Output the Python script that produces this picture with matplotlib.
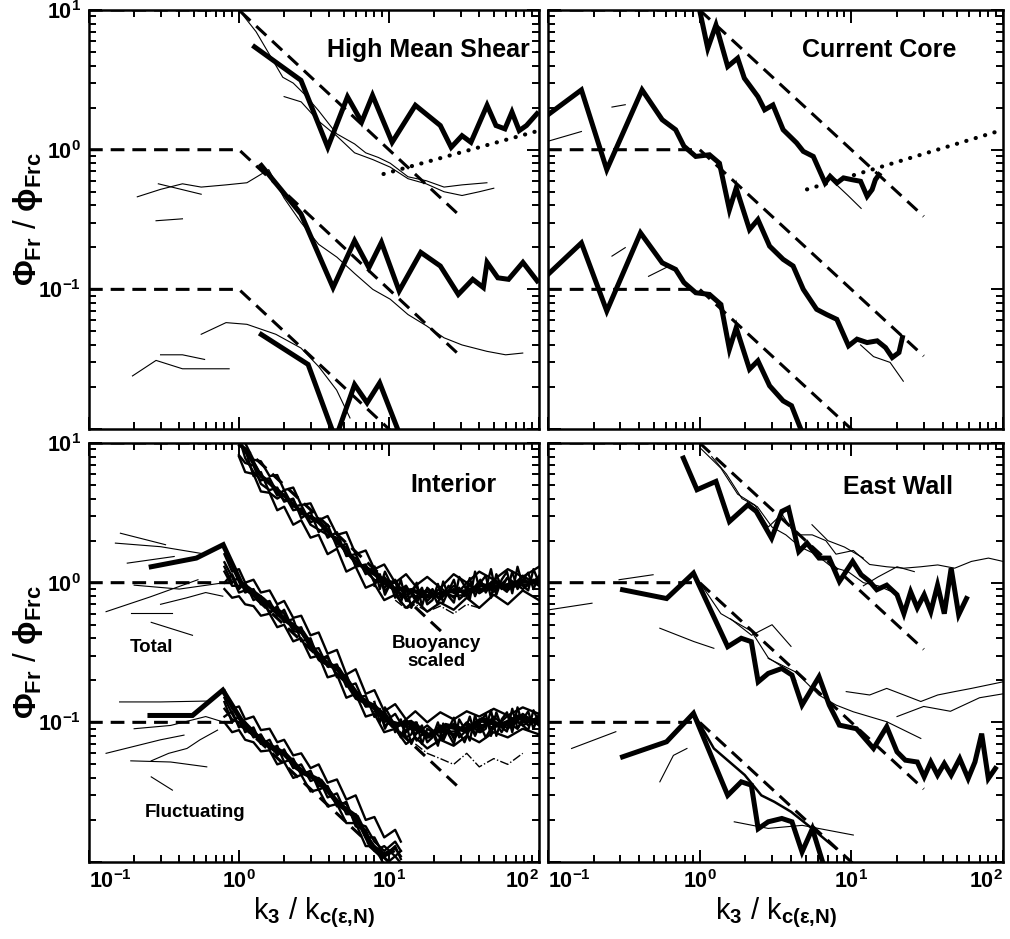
import numpy as np
import matplotlib
matplotlib.use('Agg')
import matplotlib.pyplot as plt
from matplotlib.ticker import FixedLocator, NullFormatter

plt.rcParams['font.family'] = ['Liberation Sans', 'DejaVu Sans']
plt.rcParams['font.weight'] = 'bold'
plt.rcParams['mathtext.fontset'] = 'custom'
plt.rcParams['mathtext.rm'] = 'Liberation Sans:bold'
plt.rcParams['mathtext.it'] = 'Liberation Sans:bold'
plt.rcParams['mathtext.bf'] = 'Liberation Sans:bold'

# model spectra (dashed) and k^(1/3) lines (dotted)
model_k = [0.1, 1.0, 30.0]
model_top = [10.0, 10.0, 0.333]
model_mid = [1.0, 1.0, 0.0333]
model_low = [0.1, 0.1, 0.00333]

# ---- High Mean Shear
hms_up_k = [1.27, 2.59, 3.91, 5.29, 6.58, 7.77, 10.5, 15.0, 22.0, 26.0, 30.7, 35.2, 45.1, 51.7, 59.3, 66.1, 73.9, 82.6, 97.0]
hms_up_phi = [5.45, 3.14, 1.04, 2.39, 1.58, 2.45, 1.13, 2.08, 1.49, 1.04, 1.26, 1.13, 2.08, 1.49, 1.41, 1.86, 1.37, 1.49, 1.81]
hms_mid_k = [1.41, 2.59, 4.24, 5.90, 7.35, 8.91, 11.7, 16.3, 22.0, 29.0, 36.2, 42.6, 45.1, 53.2, 62.7, 78.2, 97.3]
hms_mid_phi = [0.77, 0.347, 0.103, 0.223, 0.143, 0.217, 0.0975, 0.184, 0.147, 0.092, 0.118, 0.103, 0.156, 0.121, 0.118, 0.156, 0.115]
hms_low_k = [1.41, 2.89, 4.4, 5.90, 7.15, 8.67, 12.5]
hms_low_phi = [0.0475, 0.029, 0.0085, 0.0208, 0.0154, 0.0214, 0.0078]
hms_dot_k = [9.2, 100.0]
hms_dot_phi = [0.67, 1.37]
hms_t1_k = [1.0, 1.3, 1.58, 1.96, 2.3, 2.73, 3.4, 4.48, 5.9, 7.0, 8.5, 10.2, 13.4, 17.7, 23.3, 30.7, 45.0]
hms_t1_phi = [10.0, 7.0, 4.9, 3.3, 3.0, 2.5, 1.9, 1.3, 1.1, 0.95, 0.88, 0.8, 0.64, 0.6, 0.54, 0.56, 0.58]
hms_t2_k = [2.0, 2.6, 3.4, 4.5, 5.9, 7.8, 10.2, 13.4, 17.7, 23.3, 30.7, 40.0, 50.0]
hms_t2_phi = [2.4, 2.2, 1.6, 1.25, 0.95, 0.85, 0.75, 0.62, 0.57, 0.5, 0.47, 0.5, 0.53]
hms_t3_k = [0.21, 0.3, 0.42, 0.56, 0.82, 1.13, 1.58, 2.0, 2.6, 3.4, 4.5, 5.9, 7.8, 10.2, 13.4, 17.7, 23.3, 30.7, 45.0, 60.0, 78.0]
hms_t3_phi = [0.46, 0.52, 0.57, 0.54, 0.56, 0.58, 0.72, 0.45, 0.3, 0.21, 0.17, 0.13, 0.1, 0.085, 0.066, 0.055, 0.045, 0.04, 0.036, 0.034, 0.035]
hms_t4_k = [0.29, 0.56]
hms_t4_phi = [0.57, 0.48]
hms_t5_k = [0.28, 0.42]
hms_t5_phi = [0.31, 0.32]
hms_t6_k = [0.195, 0.28, 0.42, 0.86]
hms_t6_phi = [0.024, 0.031, 0.027, 0.027]
hms_t7_k = [0.30, 0.42, 0.59]
hms_t7_phi = [0.034, 0.034, 0.0315]
hms_t8_k = [0.56, 0.82, 1.13, 1.76, 2.59, 3.4, 4.48, 5.5]
hms_t8_phi = [0.0477, 0.0578, 0.0562, 0.0477, 0.038, 0.028, 0.019, 0.012]

# ---- Current Core
cc_up_k = [0.98, 1.13, 1.28, 1.53, 1.78, 1.97, 2.42, 2.68, 3.04, 3.55, 4.35, 4.82, 5.61, 6.71, 7.24, 8.02, 8.87, 10.1, 11.5, 12.7, 13.7, 14.4, 15.2]
cc_up_phi = [11.0, 5.32, 7.81, 3.94, 4.52, 3.25, 2.40, 1.93, 2.09, 1.39, 1.12, 0.973, 0.895, 0.578, 0.645, 0.578, 0.628, 0.61, 0.594, 0.464, 0.518, 0.61, 0.662]
cc_mid_k = [0.1, 0.166, 0.244, 0.417, 0.566, 0.694, 0.787, 0.942, 1.16, 1.35, 1.57, 1.74, 2.13, 2.42, 2.89, 3.55, 4.13, 4.82, 5.90, 6.88, 8.02, 9.58, 10.9, 12.7, 14.8, 16.8, 18.6, 20.6, 21.7]
cc_mid_phi = [1.78, 2.68, 0.72, 2.68, 1.64, 1.39, 1.06, 0.895, 0.92, 0.80, 0.372, 0.532, 0.268, 0.316, 0.204, 0.164, 0.147, 0.1, 0.072, 0.066, 0.061, 0.0394, 0.044, 0.0416, 0.0428, 0.0383, 0.0325, 0.0353, 0.0452]
cc_low_k = [0.1, 0.166, 0.244, 0.407, 0.566, 0.694, 0.787, 0.942, 1.16, 1.38, 1.57, 1.74, 2.13, 2.42, 2.89, 3.55, 4.03, 4.82]
cc_low_phi = [0.128, 0.215, 0.070, 0.254, 0.155, 0.139, 0.112, 0.0946, 0.092, 0.078, 0.0373, 0.0532, 0.0268, 0.0308, 0.0204, 0.0159, 0.0147, 0.009]
cc_dot_k = [5.1, 100.0]
cc_dot_phi = [0.52, 1.39]
cc_t1_k = [0.1, 0.166]
cc_t1_phi = [1.15, 1.35]
cc_t2_k = [0.264, 0.323]
cc_t2_phi = [2.02, 2.1]
cc_t3_k = [0.264, 0.323]
cc_t3_phi = [0.173, 0.199]
cc_t4_k = [0.46, 0.63]
cc_t4_phi = [0.124, 0.147]
cc_t5_k = [8.0, 9.5, 11.6]
cc_t5_phi = [0.56, 0.47, 0.38]
cc_t6_k = [11.5, 14.0, 18.0, 22.0]
cc_t6_phi = [0.04, 0.033, 0.03, 0.022]

# ---- Interior (dense bands of spectra)
int_up_k = [1.0, 1.1, 1.25, 1.4, 1.6, 1.8, 2.0, 2.3, 2.6, 3.0, 3.4, 3.9, 4.5, 5.2, 6.0, 7.0, 8.0, 9.3, 11, 13, 15, 18, 22, 27, 33, 40, 50, 62, 78, 100]
int_up_a = [10.5, 8.6, 7.4, 5.9, 5.3, 4.2, 4.6, 3.5, 3.6, 2.7, 2.9, 2.1, 2.3, 1.55, 1.6, 1.15, 1.3, 0.92, 1.05, 0.78, 0.95, 0.74, 0.92, 0.78, 1.0, 0.84, 1.05, 0.88, 1.12, 0.95]
int_up_b = [8.2, 7.2, 6.9, 5.1, 4.6, 4.8, 3.8, 4.0, 2.9, 3.2, 2.3, 2.6, 1.8, 1.9, 1.3, 1.35, 1.0, 1.1, 0.85, 0.95, 0.75, 0.9, 0.76, 0.95, 0.8, 1.02, 0.86, 1.08, 0.9, 1.1]
int_up_c = [9.6, 9.0, 5.8, 6.2, 4.4, 4.0, 4.3, 3.3, 3.4, 2.6, 2.4, 2.2, 2.1, 1.6, 1.5, 1.2, 1.05, 0.98, 0.88, 0.92, 0.8, 0.78, 0.85, 0.8, 0.82, 0.9, 0.92, 0.95, 1.0, 1.05]
int_up_d = [11, 7.8, 6.2, 5.4, 5.6, 4.4, 3.9, 3.9, 3.1, 3.0, 2.8, 2.4, 1.9, 1.8, 1.35, 1.3, 1.2, 1.05, 1.0, 0.82, 0.88, 0.86, 0.78, 0.9, 0.86, 0.88, 1.0, 0.92, 0.96, 1.0]
int_up_f = [11, 10, 7.6, 7.4, 5.8, 5.9, 4.6, 4.8, 3.6, 3.7, 2.8, 3.0, 2.2, 2.3, 1.6, 1.7, 1.25, 1.35, 1.0, 1.15, 0.95, 1.1, 0.92, 1.15, 1.0, 1.2, 1.05, 1.25, 1.1, 1.3]
int_up_g = [8.0, 6.2, 6.0, 4.5, 4.4, 3.3, 3.5, 2.6, 2.8, 2.1, 2.2, 1.6, 1.75, 1.2, 1.3, 0.92, 0.98, 0.75, 0.82, 0.66, 0.75, 0.62, 0.72, 0.64, 0.78, 0.66, 0.82, 0.7, 0.88, 0.75]
int_r_k = [8.0, 8.7, 9.4, 10.2, 11.0, 12.0, 13.0, 14.1, 15.3, 16.6, 18.0, 19.5, 21.2, 23.0, 25.0, 27.1, 29.4, 31.9, 34.6, 37.5, 40.7, 44.2, 47.9, 52.0, 56.4, 61.2, 66.4, 72.0, 78.1, 84.8, 92.0, 100]
int_up_r_a = [1.3, 0.9, 1.2, 1.0, 0.78, 1.05, 0.74, 0.8, 1.0, 0.68, 0.92, 0.85, 0.7, 1.02, 0.8, 0.72, 1.1, 0.95, 0.76, 1.2, 0.85, 0.9, 1.25, 0.82, 1.05, 1.2, 0.84, 1.3, 0.95, 0.88, 1.25, 1.0]
int_up_r_b = [0.95, 1.15, 0.82, 0.98, 0.9, 0.72, 0.95, 0.66, 0.8, 0.92, 0.7, 0.75, 0.98, 0.72, 0.88, 1.05, 0.76, 0.82, 1.08, 0.8, 1.0, 1.12, 0.78, 1.15, 0.92, 0.86, 1.2, 0.9, 1.05, 1.18, 0.9, 1.12]
int_up_r_c = [1.15, 1.05, 0.88, 0.95, 1.02, 0.78, 0.86, 0.9, 0.72, 0.84, 0.8, 0.9, 0.78, 0.82, 0.95, 0.84, 0.92, 0.8, 0.98, 0.9, 1.05, 0.85, 0.98, 1.04, 0.9, 1.08, 1.0, 0.95, 1.12, 0.98, 1.05, 1.0]
int_up_e_k = [11, 13, 15, 18, 22, 27, 33, 40]
int_up_e = [0.75, 0.65, 0.7, 0.62, 0.68, 0.6, 0.7, 0.66]
int_mid_k = [0.8, 0.9, 1.0, 1.1, 1.25, 1.4, 1.6, 1.8, 2.0, 2.3, 2.6, 3.0, 3.4, 3.9, 4.5, 5.2, 6.0, 7.0, 8.0, 9.3, 11, 13, 15, 18, 22, 27, 33, 40, 50, 62, 78, 100]
int_mid_a = [1.3, 1.0, 1.1, 0.85, 0.9, 0.7, 0.74, 0.58, 0.64, 0.46, 0.48, 0.33, 0.34, 0.25, 0.26, 0.18, 0.19, 0.13, 0.135, 0.1, 0.115, 0.085, 0.1, 0.078, 0.095, 0.08, 0.1, 0.085, 0.11, 0.09, 0.115, 0.095]
int_mid_b = [1.0, 1.15, 0.9, 1.0, 0.75, 0.8, 0.6, 0.68, 0.52, 0.55, 0.38, 0.4, 0.28, 0.3, 0.21, 0.22, 0.15, 0.155, 0.11, 0.12, 0.09, 0.105, 0.082, 0.095, 0.078, 0.098, 0.085, 0.105, 0.09, 0.112, 0.095, 0.11]
int_mid_c = [1.2, 0.95, 0.95, 0.95, 0.8, 0.72, 0.68, 0.6, 0.55, 0.5, 0.44, 0.36, 0.31, 0.27, 0.24, 0.2, 0.16, 0.145, 0.125, 0.105, 0.1, 0.095, 0.088, 0.082, 0.085, 0.086, 0.09, 0.095, 0.098, 0.1, 0.1, 0.105]
int_mid_d = [1.4, 1.1, 0.85, 0.88, 0.88, 0.76, 0.62, 0.65, 0.6, 0.45, 0.44, 0.38, 0.29, 0.29, 0.22, 0.21, 0.17, 0.13, 0.13, 0.115, 0.095, 0.1, 0.09, 0.08, 0.09, 0.082, 0.098, 0.09, 0.1, 0.095, 0.108, 0.1]
int_mid_f = [1.6, 1.2, 1.25, 1.0, 1.05, 0.85, 0.88, 0.7, 0.74, 0.56, 0.58, 0.42, 0.44, 0.31, 0.33, 0.22, 0.24, 0.16, 0.17, 0.12, 0.135, 0.105, 0.12, 0.1, 0.118, 0.105, 0.12, 0.11, 0.125, 0.112, 0.128, 0.115]
int_mid_g = [0.9, 0.78, 0.8, 0.7, 0.68, 0.58, 0.6, 0.48, 0.5, 0.38, 0.4, 0.29, 0.3, 0.21, 0.22, 0.15, 0.16, 0.11, 0.115, 0.085, 0.09, 0.07, 0.078, 0.065, 0.075, 0.068, 0.08, 0.072, 0.085, 0.078, 0.09, 0.082]
int_mid_r_a = [0.14, 0.1, 0.128, 0.11, 0.085, 0.105, 0.078, 0.082, 0.1, 0.07, 0.09, 0.085, 0.068, 0.098, 0.082, 0.07, 0.105, 0.09, 0.074, 0.112, 0.085, 0.09, 0.122, 0.08, 0.105, 0.118, 0.085, 0.128, 0.095, 0.088, 0.122, 0.1]
int_mid_r_b = [0.11, 0.125, 0.09, 0.108, 0.095, 0.078, 0.098, 0.07, 0.085, 0.095, 0.072, 0.078, 0.1, 0.074, 0.09, 0.108, 0.078, 0.085, 0.11, 0.08, 0.1, 0.115, 0.08, 0.118, 0.092, 0.086, 0.125, 0.09, 0.105, 0.12, 0.09, 0.115]
int_mid_r_c = [0.12, 0.112, 0.095, 0.1, 0.098, 0.08, 0.088, 0.09, 0.074, 0.082, 0.078, 0.088, 0.072, 0.08, 0.09, 0.076, 0.085, 0.072, 0.09, 0.082, 0.095, 0.078, 0.09, 0.098, 0.085, 0.1, 0.095, 0.09, 0.105, 0.095, 0.1, 0.098]
int_mid_e_k = [15, 18, 22, 27, 33, 40, 50, 62, 78]
int_mid_e = [0.07, 0.06, 0.055, 0.05, 0.06, 0.048, 0.055, 0.05, 0.06]
int_lo_k = [0.8, 0.9, 1.0, 1.1, 1.25, 1.4, 1.6, 1.8, 2.0, 2.3, 2.6, 3.0, 3.4, 3.9, 4.5, 5.2, 6.0, 7.0, 8.0, 9.3, 11, 12]
int_lo_a = [0.14, 0.1, 0.11, 0.085, 0.092, 0.07, 0.075, 0.058, 0.064, 0.047, 0.05, 0.038, 0.04, 0.029, 0.031, 0.022, 0.022, 0.015, 0.015, 0.011, 0.013, 0.0105]
int_lo_b = [0.11, 0.12, 0.092, 0.1, 0.078, 0.082, 0.064, 0.068, 0.052, 0.055, 0.042, 0.045, 0.033, 0.035, 0.025, 0.027, 0.018, 0.017, 0.012, 0.013, 0.011, 0.012]
int_lo_c = [0.125, 0.105, 0.1, 0.094, 0.086, 0.076, 0.07, 0.062, 0.058, 0.05, 0.046, 0.041, 0.037, 0.032, 0.028, 0.024, 0.02, 0.016, 0.013, 0.0115, 0.0125, 0.011]
int_lo_d = [0.15, 0.115, 0.095, 0.09, 0.08, 0.08, 0.066, 0.06, 0.06, 0.048, 0.044, 0.043, 0.035, 0.034, 0.027, 0.026, 0.019, 0.018, 0.014, 0.012, 0.014, 0.012]
int_lo_f = [0.17, 0.125, 0.13, 0.105, 0.11, 0.088, 0.09, 0.072, 0.075, 0.058, 0.06, 0.047, 0.05, 0.037, 0.039, 0.028, 0.03, 0.02, 0.021, 0.015, 0.017, 0.014]
int_lo_g = [0.1, 0.085, 0.088, 0.075, 0.072, 0.062, 0.063, 0.05, 0.052, 0.04, 0.042, 0.032, 0.033, 0.025, 0.026, 0.019, 0.019, 0.013, 0.013, 0.0095, 0.011, 0.0098]
int_up_thick_k = [1.1, 1.4, 2.0, 2.6, 3.4, 4.5, 6.0, 8.0, 10.6, 14, 18.5, 24, 32, 42, 56, 74, 100]
int_up_thick = [9.0, 5.8, 4.2, 3.2, 2.7, 2.0, 1.4, 1.15, 0.92, 0.88, 0.8, 0.86, 0.87, 0.96, 0.94, 1.02, 1.0]
int_mid_thick_k = [0.26, 0.52, 0.785, 1.035, 1.44, 2.0, 2.65, 3.5, 4.6, 6.1, 8.0, 10.6, 14, 18.5, 24, 32, 42, 56, 74, 100]
int_mid_thick = [1.30, 1.50, 1.87, 0.99, 0.76, 0.55, 0.44, 0.28, 0.24, 0.15, 0.13, 0.095, 0.1, 0.08, 0.095, 0.088, 0.105, 0.095, 0.11, 0.1]
int_low_thick_k = [0.255, 0.49, 0.78, 1.035, 1.44, 2.0, 2.65, 3.5, 4.6, 6.1, 7.6, 9.0, 10.5]
int_low_thick = [0.112, 0.112, 0.17, 0.104, 0.072, 0.06, 0.044, 0.038, 0.026, 0.021, 0.013, 0.011, 0.012]
int_f1_k = [0.162, 0.324]
int_f1_phi = [2.26, 1.87]
int_f2_k = [0.13, 0.255, 0.533]
int_f2_phi = [0.62, 0.79, 1.05]
int_f3_k = [0.18, 0.37]
int_f3_phi = [1.38, 1.54]
int_f4_k = [0.26, 0.49]
int_f4_phi = [0.52, 0.42]
int_f5_k = [0.15, 0.3, 0.6]
int_f5_phi = [1.92, 1.81, 1.6]
int_f6_k = [0.2, 0.4, 0.8]
int_f6_phi = [0.96, 0.9, 1.0]
int_f7_k = [0.13, 0.3, 0.43]
int_f7_phi = [0.06, 0.075, 0.081]
int_f8_k = [0.19, 0.35, 0.61]
int_f8_phi = [0.053, 0.052, 0.048]
int_f9_k = [0.16, 0.3, 0.61]
int_f9_phi = [0.14, 0.14, 0.142]
int_f10_k = [0.26, 0.36]
int_f10_phi = [0.0407, 0.0327]
int_f11_k = [0.2, 0.35, 0.6, 0.8]
int_f11_phi = [0.09, 0.095, 0.11, 0.1]
int_f12_k = [0.19, 0.36]
int_f12_phi = [0.61, 0.61]
int_f13_k = [0.26, 0.34, 0.45, 0.55, 0.72]
int_f13_phi = [0.053, 0.06, 0.065, 0.075, 0.088]
int_f14_k = [0.3, 0.45, 0.6, 0.78]
int_f14_phi = [0.7, 0.78, 0.85, 0.8]

# ---- East Wall
ew_up_k = [0.78, 0.96, 1.28, 1.57, 2.08, 2.36, 2.98, 3.48, 3.85, 4.5, 5.1, 6.12, 7.15, 8.34, 10.2, 11.6, 13.2, 14.7, 17.1, 20.0, 22.2, 24.6, 27.2, 30.2, 33.4, 37.0, 41.0, 45.5, 51.0, 57.4]
ew_up_phi = [7.8, 4.63, 5.31, 2.74, 3.61, 3.24, 2.08, 3.24, 3.42, 1.67, 1.92, 1.50, 1.50, 1.02, 1.42, 1.14, 1.02, 0.89, 0.96, 0.82, 0.60, 0.86, 0.66, 0.82, 0.62, 0.96, 0.60, 1.27, 0.59, 0.77]
ew_mid_k = [0.31, 0.605, 0.91, 1.53, 1.88, 2.19, 2.43, 2.83, 3.48, 4.06, 4.73, 6.12, 7.15, 8.34, 10.8, 14.0, 17.1, 20.0, 22.7, 27.2, 30.2, 33.4, 37.0, 41.0, 45.5, 51.8, 58.9, 65.3, 72.3, 80.0, 88.9]
ew_mid_phi = [0.89, 0.77, 1.17, 0.348, 0.40, 0.378, 0.195, 0.224, 0.243, 0.218, 0.133, 0.212, 0.133, 0.0955, 0.090, 0.065, 0.093, 0.0615, 0.0536, 0.052, 0.0407, 0.052, 0.0419, 0.0507, 0.0419, 0.055, 0.0396, 0.052, 0.083, 0.0396, 0.0467]
ew_low_k = [0.31, 0.605, 0.91, 1.53, 1.88, 2.19, 2.43, 2.83, 3.48, 4.06, 4.73, 5.53, 6.6]
ew_low_phi = [0.0566, 0.0726, 0.116, 0.030, 0.0375, 0.0355, 0.0173, 0.0194, 0.0205, 0.0194, 0.0118, 0.0173, 0.0093]
ew_low2_k = [0.914, 1.24, 1.98, 2.55, 3.1, 4.0, 5.5, 7.9]
ew_low2_phi = [0.116, 0.065, 0.042, 0.030, 0.027, 0.0229, 0.0174, 0.0125]
ew_t1_k = [1.01, 1.38, 1.78, 2.31, 2.83, 3.48, 4.27, 5.52, 6.79, 7.92, 10.3, 13.2, 17.1, 22.2, 28.7, 37.1, 48.0, 61.9, 80.1, 100]
ew_t1_phi = [9.2, 6.6, 4.3, 3.6, 2.5, 3.1, 2.2, 2.2, 2.0, 1.6, 1.7, 1.35, 1.3, 1.27, 1.3, 1.34, 1.27, 1.42, 1.5, 1.42]
ew_t2_k = [1.2, 1.5, 1.9, 2.4, 3.0, 3.7, 4.6, 5.8, 7.4, 9.5, 12, 15, 19]
ew_t2_phi = [8, 6, 4, 3.5, 2.5, 2.2, 1.8, 1.6, 1.3, 1.2, 1.0, 0.95, 0.85]
ew_t3_k = [0.1, 0.195]
ew_t3_phi = [0.638, 0.713]
ew_t4_k = [0.546, 0.914, 1.24]
ew_t4_phi = [0.472, 0.379, 0.339]
ew_t5_k = [9.25, 13.2, 17.1, 22.2, 28.7, 37.1, 48.0, 61.9, 100]
ew_t5_phi = [0.166, 0.157, 0.175, 0.157, 0.141, 0.157, 0.166, 0.175, 0.195]
ew_t6_k = [2.83, 4.27, 6.1, 7.92, 10.3, 17.1, 28.7]
ew_t6_phi = [0.287, 0.23, 0.157, 0.133, 0.119, 0.101, 0.0767]
ew_t7_k = [0.294, 0.493]
ew_t7_phi = [1.05, 1.14]
ew_t8_k = [0.143, 0.28]
ew_t8_phi = [0.065, 0.0857]
ew_t9_k = [0.546, 0.671, 0.824]
ew_t9_phi = [0.0375, 0.058, 0.065]
ew_t10_k = [1.69, 2.83, 4.74, 10.3]
ew_t10_phi = [0.0194, 0.0174, 0.0183, 0.0156]
ew_t11_k = [0.91, 1.38, 2.19, 2.83, 3.5, 4.3]
ew_t11_phi = [1.17, 0.6, 0.45, 0.29, 0.25, 0.2]
ew_t12_k = [5.5, 7.0, 9.0, 12.0]
ew_t12_phi = [2.6, 2.0, 1.8, 1.5]
ew_t13_k = [12.0, 15.0, 20.0, 26.0]
ew_t13_phi = [0.95, 1.1, 1.3, 1.2]
ew_t14_k = [1.6, 2.2, 3.0, 4.0]
ew_t14_phi = [0.55, 0.42, 0.5, 0.35]
ew_t15_k = [20.0, 30.0, 45.0, 70.0, 100.0]
ew_t15_phi = [0.11, 0.13, 0.12, 0.15, 0.16]

fig = plt.figure(figsize=(10.1, 9.39), dpi=100)
ax_tl = fig.add_axes([0.0881, 0.5431, 0.4455, 0.4462])
ax_tr = fig.add_axes([0.5426, 0.5431, 0.4505, 0.4462])
ax_bl = fig.add_axes([0.0881, 0.0820, 0.4455, 0.4462])
ax_br = fig.add_axes([0.5426, 0.0820, 0.4505, 0.4462])

thick = dict(color='black', lw=3.6, solid_joinstyle='miter', zorder=5)
thin = dict(color='black', lw=0.8, zorder=3)
band = dict(color='black', lw=1.7, zorder=3)
dash = dict(color='black', lw=2.2, linestyle=(0, (4.5, 2.6)), zorder=2)
dot = dict(color='black', lw=3.0, linestyle=(0, (0.05, 2.3)), dash_capstyle='round', zorder=2)

for ax in (ax_tl, ax_tr, ax_bl, ax_br):
    ax.plot(model_k, model_top, **dash)
    ax.plot(model_k, model_mid, **dash)
    ax.plot(model_k, model_low, **dash)

# High Mean Shear
for k, p in [(hms_t1_k, hms_t1_phi), (hms_t2_k, hms_t2_phi), (hms_t3_k, hms_t3_phi),
             (hms_t4_k, hms_t4_phi), (hms_t5_k, hms_t5_phi), (hms_t6_k, hms_t6_phi),
             (hms_t7_k, hms_t7_phi), (hms_t8_k, hms_t8_phi)]:
    ax_tl.plot(k, p, **thin)
ax_tl.plot(hms_dot_k, hms_dot_phi, **dot)
ax_tl.plot(hms_up_k, hms_up_phi, **thick)
ax_tl.plot(hms_mid_k, hms_mid_phi, **thick)
ax_tl.plot(hms_low_k, hms_low_phi, **thick)

# Current Core
for k, p in [(cc_t1_k, cc_t1_phi), (cc_t2_k, cc_t2_phi), (cc_t3_k, cc_t3_phi),
             (cc_t4_k, cc_t4_phi), (cc_t5_k, cc_t5_phi), (cc_t6_k, cc_t6_phi)]:
    ax_tr.plot(k, p, **thin)
ax_tr.plot(cc_dot_k, cc_dot_phi, **dot)
ax_tr.plot(cc_up_k, cc_up_phi, **thick)
ax_tr.plot(cc_mid_k, cc_mid_phi, **thick)
ax_tr.plot(cc_low_k, cc_low_phi, **thick)

# Interior
for ser in (int_up_a, int_up_b, int_up_c, int_up_d, int_up_f, int_up_g):
    ax_bl.plot(int_up_k, ser, **band)
for ser in (int_up_r_a, int_up_r_b, int_up_r_c, int_mid_r_a, int_mid_r_b, int_mid_r_c):
    ax_bl.plot(int_r_k, ser, **band)
for ser in (int_mid_a, int_mid_b, int_mid_c, int_mid_d, int_mid_f, int_mid_g):
    ax_bl.plot(int_mid_k, ser, **band)
for ser in (int_lo_a, int_lo_b, int_lo_c, int_lo_d, int_lo_f, int_lo_g):
    ax_bl.plot(int_lo_k, ser, **band)
ax_bl.plot(int_up_e_k, int_up_e, color='black', lw=1.0, linestyle='-.', zorder=3)
ax_bl.plot(int_mid_e_k, int_mid_e, color='black', lw=1.0, linestyle='-.', zorder=3)
for k, p in [(int_f1_k, int_f1_phi), (int_f2_k, int_f2_phi), (int_f3_k, int_f3_phi),
             (int_f4_k, int_f4_phi), (int_f5_k, int_f5_phi), (int_f6_k, int_f6_phi),
             (int_f7_k, int_f7_phi), (int_f8_k, int_f8_phi), (int_f9_k, int_f9_phi),
             (int_f10_k, int_f10_phi), (int_f11_k, int_f11_phi), (int_f12_k, int_f12_phi),
             (int_f13_k, int_f13_phi), (int_f14_k, int_f14_phi)]:
    ax_bl.plot(k, p, **thin)
ax_bl.plot(int_up_thick_k, int_up_thick, color='black', lw=2.6, zorder=4)
ax_bl.plot(int_mid_thick_k, int_mid_thick, **thick)
ax_bl.plot(int_low_thick_k, int_low_thick, **thick)

# East Wall
for k, p in [(ew_t1_k, ew_t1_phi), (ew_t2_k, ew_t2_phi), (ew_t3_k, ew_t3_phi),
             (ew_t4_k, ew_t4_phi), (ew_t5_k, ew_t5_phi), (ew_t6_k, ew_t6_phi),
             (ew_t7_k, ew_t7_phi), (ew_t8_k, ew_t8_phi), (ew_t9_k, ew_t9_phi),
             (ew_t10_k, ew_t10_phi), (ew_t11_k, ew_t11_phi), (ew_t12_k, ew_t12_phi),
             (ew_t13_k, ew_t13_phi), (ew_t14_k, ew_t14_phi), (ew_t15_k, ew_t15_phi)]:
    ax_br.plot(k, p, **thin)
ax_br.plot(ew_low2_k, ew_low2_phi, color='black', lw=1.8, zorder=4)
ax_br.plot(ew_up_k, ew_up_phi, **thick)
ax_br.plot(ew_mid_k, ew_mid_phi, **thick)
ax_br.plot(ew_low_k, ew_low_phi, **thick)

xminor = [m * d for d in (0.1, 1, 10) for m in range(2, 10)]
yminor = [m * d for d in (0.01, 0.1, 1) for m in range(2, 10)]
ylab = r'$\mathrm{\Phi_{Fr}}$ / $\mathrm{\phi_{Frc}}$'
xlab = r'k$_3$ / k$_{\mathrm{c(\varepsilon{,}N)}}$'

for ax, left, bottom in [(ax_tl, True, False), (ax_tr, False, False),
                         (ax_bl, True, True), (ax_br, False, True)]:
    ax.set_xscale('log')
    ax.set_yscale('log')
    ax.set_xlim(0.1, 100)
    ax.set_ylim(0.01, 10)
    ax.xaxis.set_minor_locator(FixedLocator(xminor))
    ax.yaxis.set_minor_locator(FixedLocator(yminor))
    ax.xaxis.set_minor_formatter(NullFormatter())
    ax.yaxis.set_minor_formatter(NullFormatter())
    if bottom:
        ax.set_xticks([0.1, 1, 10, 100], labels=[r'$10^{-1}$', r'$10^{0}$', r'$10^{1}$', r'$10^{2}$'])
        lbls = ax.get_xticklabels()
        lbls[0].set_horizontalalignment('left')
        lbls[-1].set_horizontalalignment('right')
        ax.set_xlabel(xlab, fontsize=21)
        ax.xaxis.set_label_coords(0.5, -0.12)
        ax.xaxis.label.set_va('center')
    else:
        ax.set_xticks([0.1, 1, 10, 100], labels=['', '', '', ''])
    if left:
        ax.set_yticks([0.01, 0.1, 1, 10], labels=['', r'$10^{-1}$', r'$10^{0}$', r'$10^{1}$'])
        ax.set_ylabel(ylab, fontsize=22.5)
        ax.yaxis.set_label_coords(-0.135, 0.5)
        ax.yaxis.label.set_va('center')
    else:
        ax.set_yticks([0.01, 0.1, 1, 10], labels=['', '', '', ''])
    ax.tick_params(which='both', direction='in', top=True, right=True, width=1.4,
                   labelsize=15.5, colors='black')
    ax.tick_params(which='major', length=9, pad=6)
    ax.tick_params(which='minor', length=5)
    for sp in ax.spines.values():
        sp.set_linewidth(1.8)

ax_tl.text(0.98, 0.905, 'High Mean Shear', transform=ax_tl.transAxes, ha='right', va='center', fontsize=18)
ax_tr.text(0.728, 0.905, 'Current Core', transform=ax_tr.transAxes, ha='center', va='center', fontsize=18)
ax_bl.text(0.81, 0.9, 'Interior', transform=ax_bl.transAxes, ha='center', va='center', fontsize=18)
ax_br.text(0.77, 0.895, 'East Wall', transform=ax_br.transAxes, ha='center', va='center', fontsize=18)
ax_bl.text(0.138, 0.511, 'Total', transform=ax_bl.transAxes, ha='center', va='center', fontsize=13.5)
ax_bl.text(0.773, 0.5, 'Buoyancy\nscaled', transform=ax_bl.transAxes, ha='center', va='center',
           fontsize=13.5, linespacing=1.1, zorder=6,
           bbox=dict(facecolor='white', edgecolor='none', pad=1.0))
ax_bl.text(0.235, 0.117, 'Fluctuating', transform=ax_bl.transAxes, ha='center', va='center', fontsize=13.5)

fig.savefig('out.png', dpi=100)
